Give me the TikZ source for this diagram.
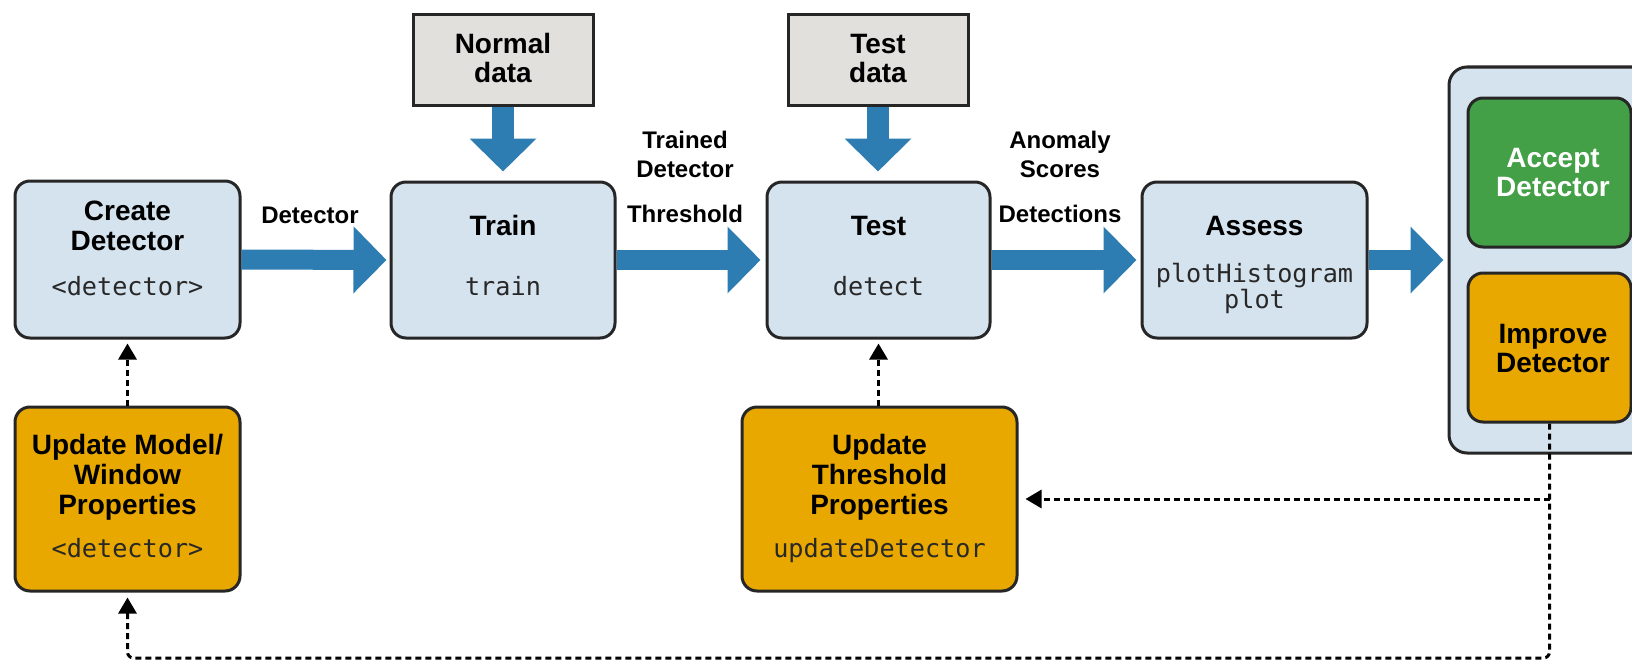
\documentclass[tikz,border=0pt]{standalone}
\usepackage{fontspec}
\setmainfont{Liberation Sans}
\setmonofont{DejaVu Sans Mono}
\usetikzlibrary{arrows.meta}

\definecolor{boxblue}{RGB}{213,227,238}
\definecolor{databox}{RGB}{225,224,220}
\definecolor{flowblue}{RGB}{46,125,178}
\definecolor{okgreen}{RGB}{67,160,71}
\definecolor{fixorange}{RGB}{233,168,0}
\definecolor{edge}{RGB}{38,38,38}
\definecolor{codegray}{RGB}{40,40,40}

\tikzset{
  card/.style={draw=edge, line width=3pt, rounded corners=15pt, inner sep=0pt},
  stage/.style={card, fill=boxblue},
  fixbox/.style={card, fill=fixorange},
  okbox/.style={card, fill=okgreen},
  panel/.style={draw=edge, line width=3pt, rounded corners=18pt, fill=boxblue, inner sep=0pt},
  source/.style={draw=edge, line width=3pt, fill=databox, inner sep=0pt},
  title/.style={font=\fontsize{28}{30}\selectfont\bfseries, anchor=base, inner sep=0pt},
  code/.style={font=\fontsize{25.2}{28}\selectfont\ttfamily, text=codegray, anchor=base, inner sep=0pt},
  tag/.style={font=\fontsize{24}{28}\selectfont\bfseries, anchor=base, inner sep=0pt},
  flow/.style={draw=flowblue, line width=20pt, -{Triangle[width=65pt,length=33pt]}},
  feedback/.style={draw=black, line width=3pt, dash pattern=on 6pt off 4pt,
    -{Triangle[width=18pt,length=16pt]}},
}

\begin{document}
\begin{tikzpicture}[x=1pt, y=-1pt]
  \useasboundingbox (0,0) rectangle (1632,661);
  \clip (0,0) rectangle (1632,661);

  % main pipeline
  \node[stage, minimum width=225pt, minimum height=157pt] (create) at (127.5,259.5) {};
  \node[stage, minimum width=224pt, minimum height=156pt] (train)  at (503,260) {};
  \node[stage, minimum width=223pt, minimum height=156pt] (test)   at (878.5,260) {};
  \node[stage, minimum width=225pt, minimum height=156pt] (assess) at (1254.5,260) {};

  % data sources
  \node[source, minimum width=180pt, minimum height=90pt] (normal)   at (503,60) {};
  \node[source, minimum width=180pt, minimum height=90pt] (testdata) at (878,60) {};

  % decision panel
  \node[panel, minimum width=211pt, minimum height=386pt] (decide) at (1554.5,260) {};
  \node[okbox,  minimum width=163pt, minimum height=149pt] (accept)  at (1549.5,172.5) {};
  \node[fixbox, minimum width=163pt, minimum height=149pt] (improve) at (1549.5,347.5) {};

  % tuning steps
  \node[fixbox, minimum width=225pt, minimum height=184pt] (updmodel) at (127.5,499) {};
  \node[fixbox, minimum width=275pt, minimum height=184pt] (updthr)   at (879.5,499) {};

  % box texts
  \node[title] (createA) at (127.5,220) {Create};
  \node[title] (createB) at (127.5,250) {Detector};
  \node[code]  (createC) at (127.5,295) {<detector>};

  \node[title] (trainA) at (503,235) {Train};
  \node[code]  (trainB) at (503,295) {train};

  \node[title] (testA) at (878.5,235) {Test};
  \node[code]  (testB) at (878.5,295) {detect};

  \node[title] (assessA) at (1254.5,235) {Assess};
  \node[code]  (assessB) at (1254.5,282) {plotHistogram};
  \node[code]  (assessC) at (1254.5,308) {plot};

  \node[title] (normalA) at (503,53) {Normal};
  \node[title] (normalB) at (503,82) {data};
  \node[title] (testdataA) at (878,53) {Test};
  \node[title] (testdataB) at (878,82) {data};

  \node[title, text=white] (acceptA) at (1553,167) {Accept};
  \node[title, text=white] (acceptB) at (1553,196) {Detector};
  \node[title] (improveA) at (1553,343) {Improve};
  \node[title] (improveB) at (1553,372) {Detector};

  \node[title] (updmodelA) at (127.5,454) {Update Model/};
  \node[title] (updmodelB) at (127.5,484) {Window};
  \node[title] (updmodelC) at (127.5,514) {Properties};
  \node[code]  (updmodelD) at (127.5,557) {<detector>};

  \node[title] (updthrA) at (879.5,454) {Update};
  \node[title] (updthrB) at (879.5,484) {Threshold};
  \node[title] (updthrC) at (879.5,514) {Properties};
  \node[code]  (updthrD) at (879.5,557) {updateDetector};

  % edge labels
  \node[tag] (lblA) at (310,223) {Detector};
  \node[tag] (lblB1) at (685,148) {Trained};
  \node[tag] (lblB2) at (685,177) {Detector};
  \node[tag] (lblB3) at (685,222) {Threshold};
  \node[tag] (lblC1) at (1060,148) {Anomaly};
  \node[tag] (lblC2) at (1060,177) {Scores};
  \node[tag] (lblC3) at (1060,222) {Detections};

  % data flow
  \draw[flow] (create.east) -- ([xshift=-3pt]train.west);
  \draw[flow] (train.east)  -- ([xshift=-5pt]test.west);
  \draw[flow] (test.east)   -- ([xshift=-4pt]assess.west);
  \draw[flow] (assess.east) -- ([xshift=-4pt]decide.west);
  \draw[flow, line width=22pt] (normal.south)   -- ([yshift=9pt]train.north);
  \draw[flow, line width=22pt] (testdata.south) -- ([yshift=9pt]test.north -| testdata.south);

  % feedback loops
  \draw[feedback] (updmodel.north) -- ([yshift=-4pt]create.south);
  \draw[feedback] (test.south |- updthr.north) -- ([yshift=-4pt]test.south);

  \coordinate (loopL) at (127.5,658);
  \coordinate (branch) at (improve.south |- updthr.east);
  \draw[feedback, rounded corners=6pt] (improve.south) -- (improve.south |- loopL) -- (loopL)
    -- ([yshift=-5pt]updmodel.south);
  \draw[feedback] (branch) -- ([xshift=7pt]updthr.east);
\end{tikzpicture}
\end{document}
